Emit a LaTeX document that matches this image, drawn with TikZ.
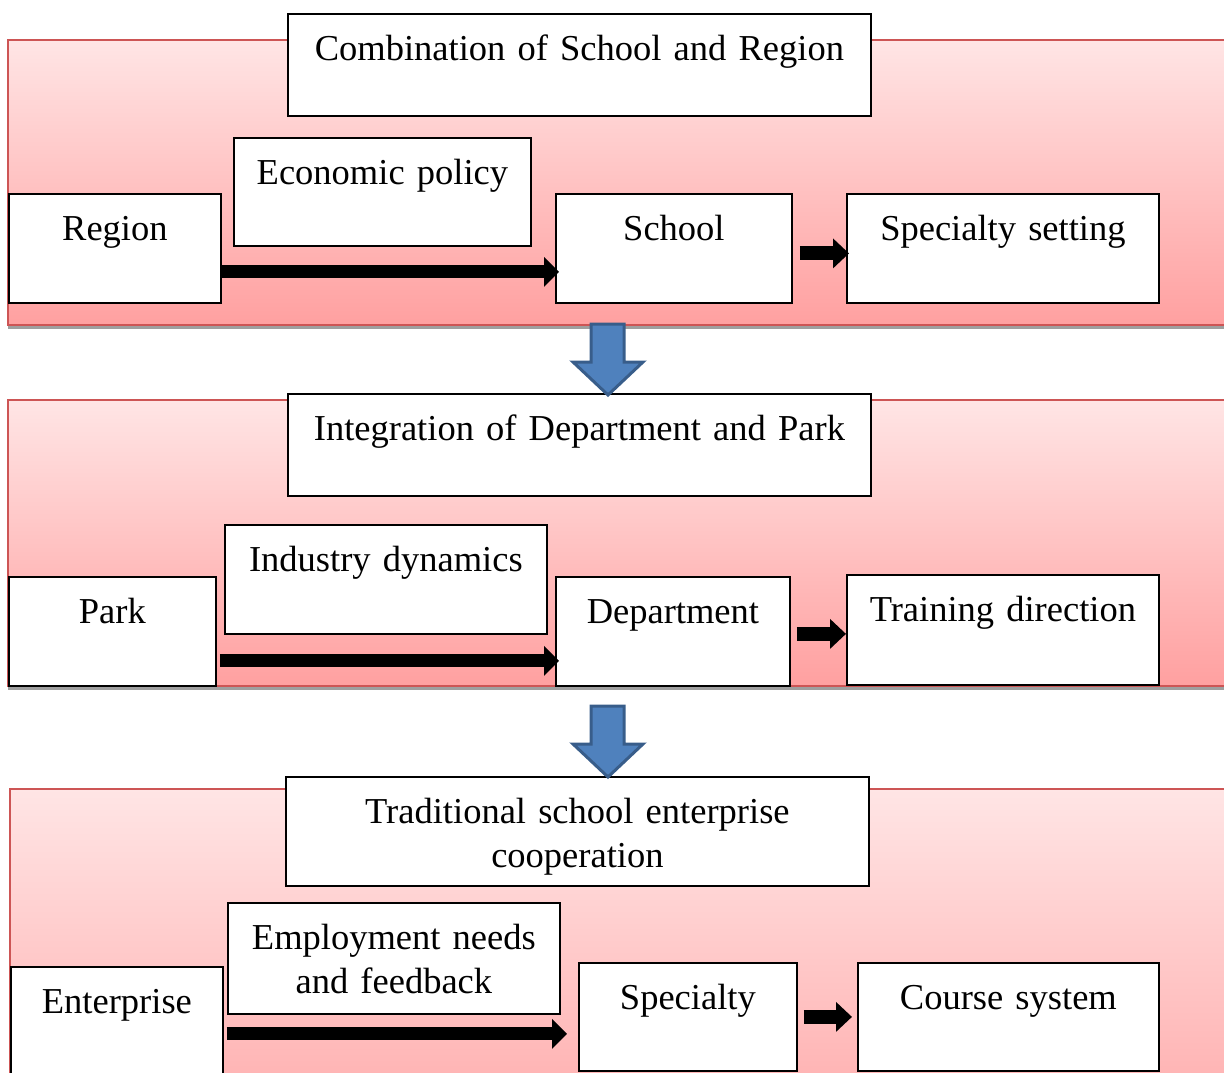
\documentclass[tikz,border=0pt]{standalone}
\usepackage{fontspec}
\setmainfont{Liberation Serif}
\usetikzlibrary{arrows.meta}
\definecolor{bandtop}{RGB}{255,229,229}
\definecolor{bandbot}{RGB}{255,160,160}
\definecolor{bandline}{RGB}{205,85,85}
\definecolor{flowfill}{RGB}{79,129,189}
\definecolor{flowline}{RGB}{56,93,138}

\begin{document}
\begin{tikzpicture}[x=1pt,y=-1pt,
    box/.style={draw, line width=1.8pt, fill=white, anchor=north west, inner sep=0pt,
      align=center, text height=47pt, font=\fontsize{36.5}{44}\selectfont},
    band/.style={draw=bandline, line width=2.4pt, top color=bandtop, bottom color=bandbot},
    bigarrow/.style={line width=13pt, -{Triangle[length=15pt,width=29pt]}},
    smallarrow/.style={line width=14pt, -{Triangle[length=16pt,width=29pt]}},
    downarrow/.style={draw=flowline, fill=flowfill, line width=3pt}]
    \useasboundingbox (0,0) rectangle (1224,1073);
    \clip (0,0) rectangle (1224,1073);
    %bands
    \foreach \ya/\yb/\xa in {40/325/8, 400/686/8, 789/1200/10}{
      \fill[gray!75] (\xa,\yb) rectangle (1240,\yb+4);
      \path[band] (\xa,\ya) rectangle (1240,\yb);
    }
    %row 1
    \node[box, text width=583pt, text depth=55pt] (comb) at (287,13) {Combination of School and Region};
    \node[box, text width=297pt, text depth=61pt] (econ) at (233,137) {Economic policy};
    \node[box, text width=212pt, text depth=62pt] (region) at (8,193) {Region};
    \node[box, text width=236pt, text depth=62pt] (school) at (555,193) {School};
    \node[box, text width=312pt, text depth=62pt] (setting) at (846,193) {Specialty setting};
    %row 2
    \node[box, text width=583pt, text depth=55pt] (integ) at (287,393) {Integration of Department and Park};
    \node[box, text width=322pt, text depth=62pt] (industry) at (224,524) {Industry dynamics};
    \node[box, text width=207pt, text depth=62pt] (park) at (8,576) {Park};
    \node[box, text width=234pt, text depth=62pt] (dept) at (555,576) {Department};
    \node[box, text width=312pt, text depth=63pt] (training) at (846,574) {Training direction};
    %row 3
    \node[box, text width=583pt, text depth=62pt] (trad) at (285,776) {Traditional school enterprise\\cooperation};
    \node[box, text width=332pt, text depth=64pt] (employ) at (227,902) {Employment needs\\and feedback};
    \node[box, text width=212pt, text depth=87pt] (enterprise) at (10,966) {Enterprise};
    \node[box, text width=218pt, text depth=61pt] (specialty) at (578,962) {Specialty};
    \node[box, text width=301pt, text depth=61pt] (course) at (857,962) {Course system};
    %edges
    \draw[bigarrow, shorten >=-4pt] ([yshift=-23.5pt]region.east) -- ([yshift=-23.5pt]school.west);
    \draw[smallarrow, shorten >=-3pt] ([xshift=7pt,yshift=-5pt]school.east) -- ([yshift=-5pt]setting.west);
    \draw[bigarrow, shorten >=-4pt] ([xshift=3pt,yshift=-29.5pt]park.east) -- ([yshift=-29.5pt]dept.west);
    \draw[smallarrow] ([xshift=6pt,yshift=-2.5pt]dept.east) -- ([yshift=-4pt]training.west);
    \draw[bigarrow, shorten >=11pt] ([xshift=3pt]enterprise.east) -- (enterprise.east -| specialty.west);
    \draw[smallarrow, shorten >=5pt] ([xshift=6pt]specialty.east) -- (specialty.east -| course.west);
    %flow between bands
    \foreach \ya in {324,706}
      \draw[downarrow] (591,\ya) -- (624,\ya) -- (624,\ya+38) -- (643,\ya+38)
        -- (608,\ya+71) -- (573,\ya+38) -- (591,\ya+38) -- cycle;
\end{tikzpicture}
\end{document}
